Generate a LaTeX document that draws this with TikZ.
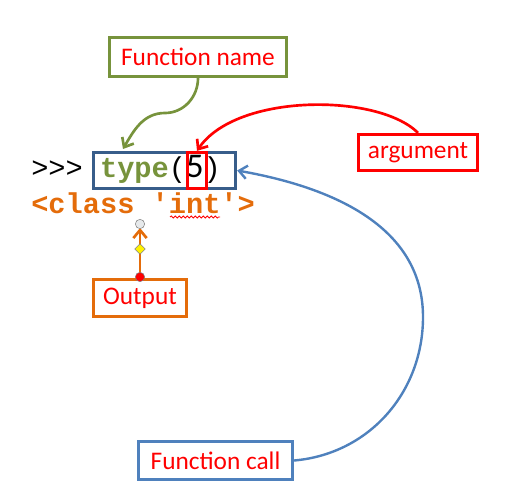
\documentclass[tikz,border=0pt]{standalone}
\usepackage{fontspec}
\setmainfont{Carlito}
\setmonofont{Liberation Mono}
\usepackage{tikz}
\usetikzlibrary{positioning,arrows.meta,shapes.geometric,decorations.pathmorphing}
\usepackage{xcolor}
\definecolor{olive}{HTML}{77933C}
\definecolor{codeblue}{HTML}{385D8A}
\definecolor{callblue}{HTML}{4F81BD}
\definecolor{outorange}{HTML}{E46C0A}

\begin{document}
\begin{tikzpicture}[x=0.75pt,y=-0.75pt,
  label/.style={draw,line width=2.2pt,inner sep=0pt,text=red,
    font=\fontsize{19}{22}\selectfont},
  code/.style={font=\ttfamily\fontsize{21.5}{25}\selectfont,inner sep=0pt},
  barb/.style={line width=2pt,-{Straight Barb[length=6pt,width=10pt]}}]
\useasboundingbox (0,0) rectangle (509,491);
% code line
\node[code,anchor=base west] (prompt) at (31,178)
  {>>> \textcolor{olive}{\textbf{type}}({\rmfamily\fontsize{26}{28}\selectfont 5})};
\node[draw=codeblue,line width=2.2pt,minimum width=106.75pt,minimum height=27.25pt] (call) at (164.5,170.5) {};
\node[draw=red,line width=2.2pt,minimum width=14.5pt,minimum height=27.25pt] (five) at (197,170.5) {};
\node[code,anchor=base west,text=outorange] (result) at (31,214)
  {\textbf{<class \textquotesingle int\textquotesingle>}};
\draw[red,line width=0.6pt,decorate,decoration={snake,amplitude=0.8pt,segment length=3pt}]
  (170,217) -- (220,217);
% labels
\node[label,draw=olive,minimum width=133pt,minimum height=29.5pt] (fname) at (198,57) {Function name};
\node[label,draw=red,minimum width=89.5pt,minimum height=27.25pt] (arg) at (418,152.5) {argument};
\node[label,draw=outorange,minimum width=70pt,minimum height=28pt] (out) at (140,298) {Output};
\node[label,draw=callblue,minimum width=115.75pt,minimum height=28.75pt] (fcall) at (215.5,460.5) {Function call};
% connectors
\draw[barb,olive] (fname.south) to[out=-90,in=0] (165,113) to[out=180,in=60] (123,149);
\draw[barb,red] (arg.north) .. controls (378,93) and (236,93) .. (five.north);
\draw[barb,callblue,line width=1.8pt] (fcall.east) to[out=5,in=-90] (423,317) to[out=90,in=-10] (call.east);
\coordinate (outtip) at (140,228);
\draw[barb,outorange] (out.north) -- (outtip);
% handles
\node[circle,draw=gray,fill=red,inner sep=0pt,minimum size=7pt] (hbot) at (140,277) {};
\node[diamond,draw=gray,fill=yellow,inner sep=0pt,minimum size=8pt] (hmid) at (140,249) {};
\node[circle,draw=gray,fill=cyan!10!gray!20,inner sep=0pt,minimum size=7pt] (htop) at (140,224) {};
\end{tikzpicture}
\end{document}
